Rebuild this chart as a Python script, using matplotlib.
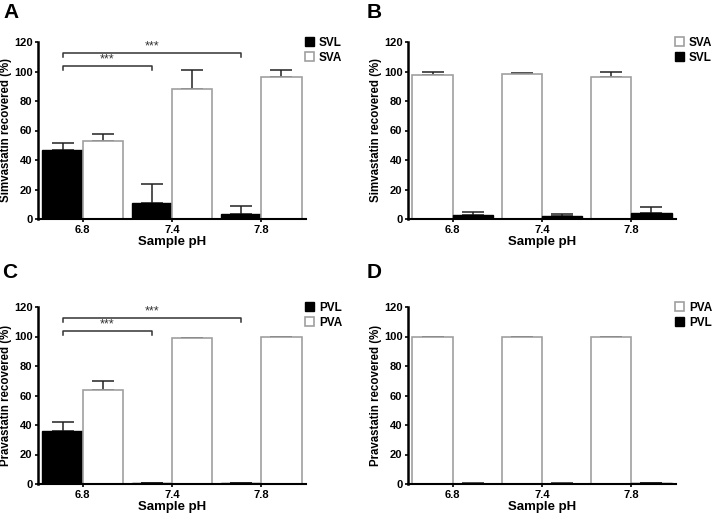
import numpy as np
import matplotlib
matplotlib.use('Agg')
from matplotlib import pyplot as plt
from matplotlib.patches import Patch

plt.rcParams['font.family'] = ['Liberation Sans', 'DejaVu Sans']
plt.rcParams['font.weight'] = 'bold'

ph_labels = ['6.8', '7.4', '7.8']

# panel A
svl_a = [47.0, 11.0, 3.6]
svl_a_err = [4.8, 12.7, 5.2]
sva_a = [52.8, 88.4, 96.2]
sva_a_err = [4.7, 12.7, 5.1]

# panel B
sva_b = [97.5, 98.0, 96.0]
sva_b_err = [2.0, 1.0, 3.8]
svl_b = [2.5, 1.8, 4.3]
svl_b_err = [2.5, 1.4, 3.6]

# panel C
pvl_c = [36.0, 0.5, 0.5]
pvl_c_err = [5.9, 0.2, 0.2]
pva_c = [63.7, 99.0, 99.5]
pva_c_err = [5.9, 0.3, 0.3]

# panel D
pva_d = [99.5, 99.7, 99.5]
pva_d_err = [0.2, 0.3, 0.3]
pvl_d = [0.3, 0.3, 0.6]
pvl_d_err = [0.2, 0.2, 0.3]

W, H = 714, 514
fig = plt.figure(figsize=(W / 100, H / 100), dpi=100)

BW = 0.45
GREY = '#a0a0a0'


def style_of(kind):
    if kind == 'black':
        return dict(facecolor='black', edgecolor='black', linewidth=1)
    return dict(facecolor='white', edgecolor=GREY, linewidth=1.2)


def draw_panel(ax, first, first_err, first_kind, first_lab,
               second, second_err, second_kind, second_lab, ylabel):
    x = np.arange(len(ph_labels))
    ax.bar(x - BW / 2, first, BW, **style_of(first_kind), zorder=2)
    ax.bar(x + BW / 2, second, BW, **style_of(second_kind), zorder=2)
    for xs, v, e in [(x - BW / 2, first, first_err), (x + BW / 2, second, second_err)]:
        ax.errorbar(xs, v, yerr=[np.zeros(len(e)), e], fmt='none', ecolor='#222222',
                    elinewidth=1.1, capsize=8, capthick=1.1, zorder=1)
    ax.set_xlim(-0.5, 2.5)
    ax.set_ylim(0, 120)
    ax.set_yticks(np.arange(0, 121, 20))
    ax.set_xticks(x)
    ax.set_xticklabels(ph_labels)
    ax.tick_params(axis='both', labelsize=8, length=2.5, width=1.2, pad=1.5)
    ax.spines['top'].set_visible(False)
    ax.spines['right'].set_visible(False)
    ax.spines['left'].set_linewidth(1.8)
    ax.spines['bottom'].set_linewidth(1.5)
    ax.set_xlabel('Sample pH', fontsize=9.5, fontweight='bold', labelpad=1)
    ax.set_ylabel(ylabel, fontsize=8.3, fontweight='bold', labelpad=1)
    handles = [Patch(**style_of(first_kind), label=first_lab),
               Patch(**style_of(second_kind), label=second_lab)]
    ax.legend(handles=handles, loc='upper left', bbox_to_anchor=(0.995, 1.03),
              frameon=False, fontsize=8.5, handlelength=0.8, handleheight=0.8,
              handletextpad=0.4, labelspacing=0.25, borderpad=0, borderaxespad=0)


def bracket(ax, x0, x1, y, drop=2.5):
    ax.plot([x0, x0, x1, x1], [y - drop, y, y, y - drop], color='#333333',
            linewidth=1.1, clip_on=False, zorder=3)
    ax.text((x0 + x1) / 2, y + 0.3, '***', ha='center', va='bottom', fontsize=9,
            fontweight='normal', color='#333333')


left_l, left_r = 38 / W, 408 / W
width = 268 / W
bottom_top, bottom_bot = 1 - 219 / H, 1 - 484 / H
height = 177 / H

ax_a = fig.add_axes([left_l, bottom_top, width, height])
ax_b = fig.add_axes([left_r, bottom_top, width, height])
ax_c = fig.add_axes([left_l, bottom_bot, width, height])
ax_d = fig.add_axes([left_r, bottom_bot, width, height])

draw_panel(ax_a, svl_a, svl_a_err, 'black', 'SVL', sva_a, sva_a_err, 'white', 'SVA',
           'Simvastatin recovered (%)')
draw_panel(ax_b, sva_b, sva_b_err, 'white', 'SVA', svl_b, svl_b_err, 'black', 'SVL',
           'Simvastatin recovered (%)')
draw_panel(ax_c, pvl_c, pvl_c_err, 'black', 'PVL', pva_c, pva_c_err, 'white', 'PVA',
           'Pravastatin recovered (%)')
draw_panel(ax_d, pva_d, pva_d_err, 'white', 'PVA', pvl_d, pvl_d_err, 'black', 'PVL',
           'Pravastatin recovered (%)')

for ax in (ax_a, ax_c):
    bracket(ax, -BW / 2, 1 - BW / 2, 103.5)
    bracket(ax, -BW / 2, 2 - BW / 2, 112.5)

for lab, px, py in [('A', 3, 3), ('B', 367, 3), ('C', 2, 263), ('D', 367, 263)]:
    fig.text(px / W, 1 - py / H, lab, fontsize=15, fontweight='bold', va='top', ha='left')

fig.savefig('out.png', dpi=100)
